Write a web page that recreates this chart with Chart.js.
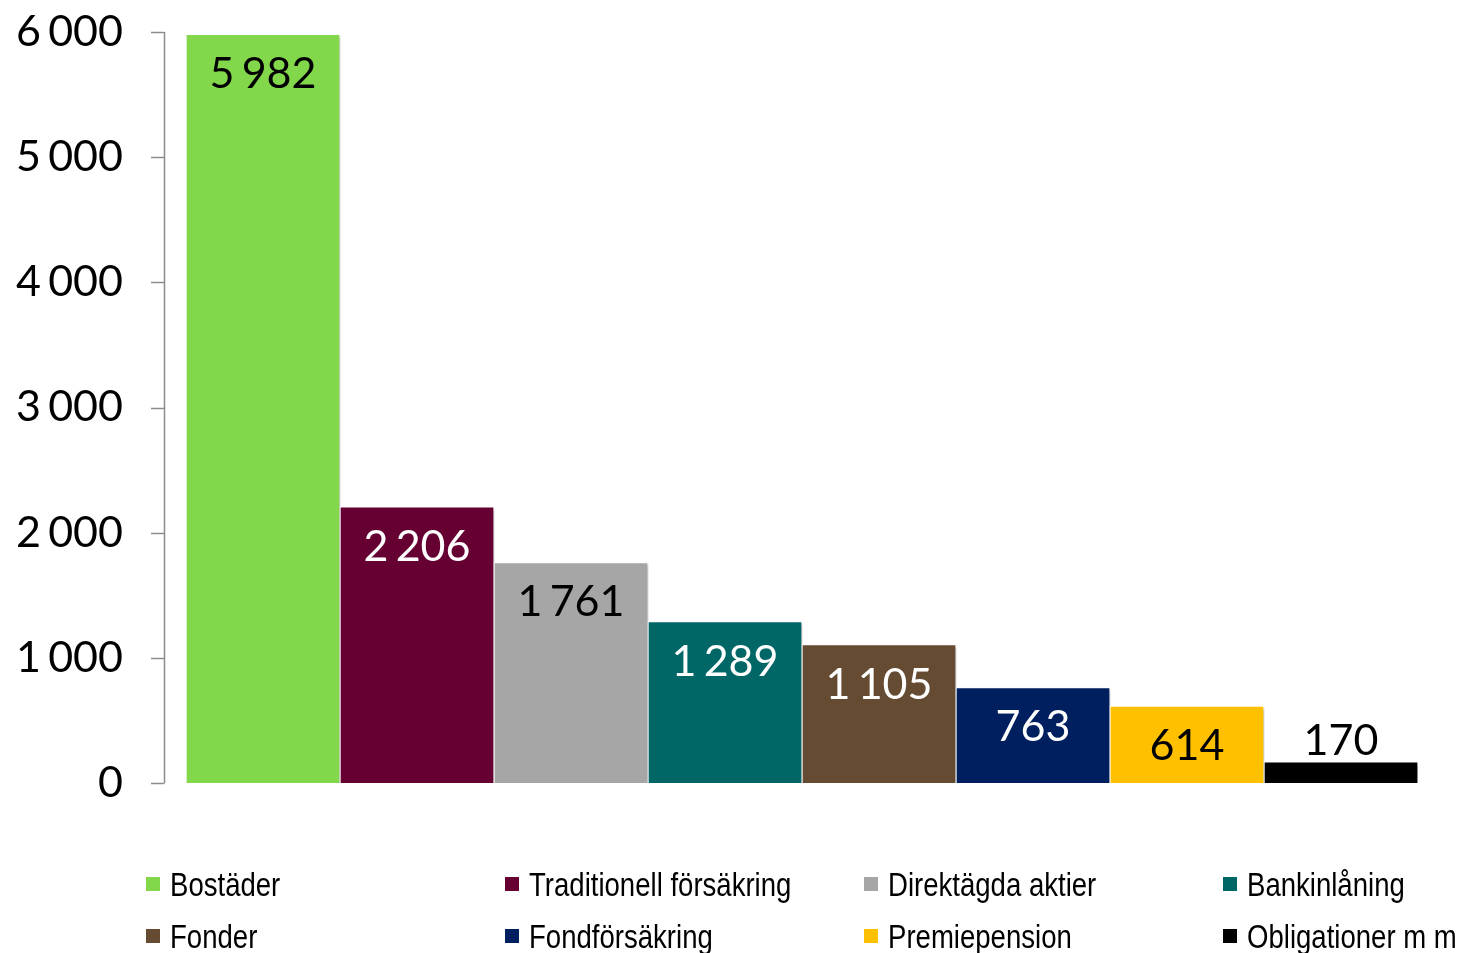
<!DOCTYPE html>
<html><head><meta charset="utf-8">
<script src="https://cdn.jsdelivr.net/npm/chart.js@4/dist/chart.umd.min.js"></script>
<style>
html,body{margin:0;padding:0;background:#fff;}
#wrap{position:relative;width:1464px;height:953px;}
#legend{position:absolute;left:0;top:0;width:1464px;height:953px;pointer-events:none;font-family:"Liberation Sans",sans-serif;font-size:33px;color:#000;}
.li{position:absolute;display:flex;align-items:center;white-space:nowrap;line-height:1;}
.sw{width:14px;height:14px;margin-right:10px;display:inline-block;flex:none;}
.tx{display:inline-block;transform:scaleX(0.835);transform-origin:left center;}
</style></head>
<body><div id="wrap"><canvas id="c" width="1464" height="953"></canvas><div id="legend"></div></div>
<script>
const categories = ["Bostäder","Traditionell försäkring","Direktägda aktier","Bankinlåning","Fonder","Fondförsäkring","Premiepension","Obligationer m m"];
const values = [5982, 2206, 1761, 1289, 1105, 763, 614, 170];
const barColors = ["#82d84a","#660033","#a6a6a6","#006666","#664b33","#001f5f","#ffc000","#000000"];
const labelColors = ["#000","#fff","#000","#fff","#fff","#fff","#000","#000"];
const yTicks = [0,1000,2000,3000,4000,5000,6000];

function fmt(v){ return String(v).replace(/\B(?=(\d{3})+(?!\d))/g, "\u2006"); }

const shadowPlugin = {
  id:'shadow',
  beforeDatasetsDraw(chart){ const c=chart.ctx; c.save(); c.shadowColor='rgba(0,0,0,0.28)'; c.shadowBlur=3; c.shadowOffsetX=2; c.shadowOffsetY=2; },
  afterDatasetsDraw(chart){ chart.ctx.restore(); }
};
const labelPlugin = {
  id:'vlabels',
  afterDraw(chart){
    const c=chart.ctx; const meta=chart.getDatasetMeta(0);
    c.save(); c.font='43px Lato'; c.textAlign='center'; c.textBaseline='middle';
    meta.data.forEach((el,i)=>{
      const h = el.base - el.y;
      const y = h < 60 ? el.y - 21 : el.y + 40;
      c.fillStyle = labelColors[i];
      c.fillText(fmt(values[i]), el.x, y);
    });
    c.restore();
  }
};
const axisPlugin = {
  id:'yaxisline',
  afterDraw(chart){
    const c=chart.ctx; const s=chart.scales.y; const x=164.5;
    c.save(); c.strokeStyle='#8c8c8c'; c.lineWidth=1.5;
    c.beginPath(); c.moveTo(x, s.getPixelForValue(yTicks[yTicks.length-1])); c.lineTo(x, s.getPixelForValue(0)); c.stroke();
    yTicks.forEach(t=>{ const y=Math.round(s.getPixelForValue(t))+0.5; c.beginPath(); c.moveTo(151,y); c.lineTo(x,y); c.stroke(); });
    c.restore();
  }
};

new Chart(document.getElementById('c'), {
  type:'bar',
  data:{ labels:categories, datasets:[{ data:values, backgroundColor:barColors, borderColor:'#ffffff', borderWidth:1, barPercentage:1, categoryPercentage:1 }]},
  options:{
    responsive:false, animation:false,
    layout:{ padding:{ top:32, right:46, bottom:170, left:0 } },
    plugins:{ legend:{display:false}, tooltip:{enabled:false} },
    scales:{
      x:{ display:false },
      y:{ min:0, max:6000, afterFit(s){ s.width=186; s.paddingTop=0; s.paddingBottom=0; },
          border:{display:false}, grid:{display:false},
          afterBuildTicks(s){ s.ticks = yTicks.map(v=>({value:v})); },
          ticks:{ padding:55, color:'#000', font:{family:'Lato', size:43}, callback:(v)=>fmt(v) } }
    }
  },
  plugins:[shadowPlugin, labelPlugin, axisPlugin]
});

const lg=document.getElementById('legend');
const colX=[146,505,864,1223]; const rowY=[884,936];
categories.forEach((name,i)=>{
  const d=document.createElement('div'); d.className='li';
  d.style.left=colX[i%4]+'px'; d.style.top=(rowY[Math.floor(i/4)]-17)+'px'; d.style.height='34px';
  const sw=document.createElement('span'); sw.className='sw'; sw.style.background=barColors[i];
  const tx=document.createElement('span'); tx.className='tx'; tx.textContent=name;
  d.appendChild(sw); d.appendChild(tx); lg.appendChild(d);
});
</script></body></html>
